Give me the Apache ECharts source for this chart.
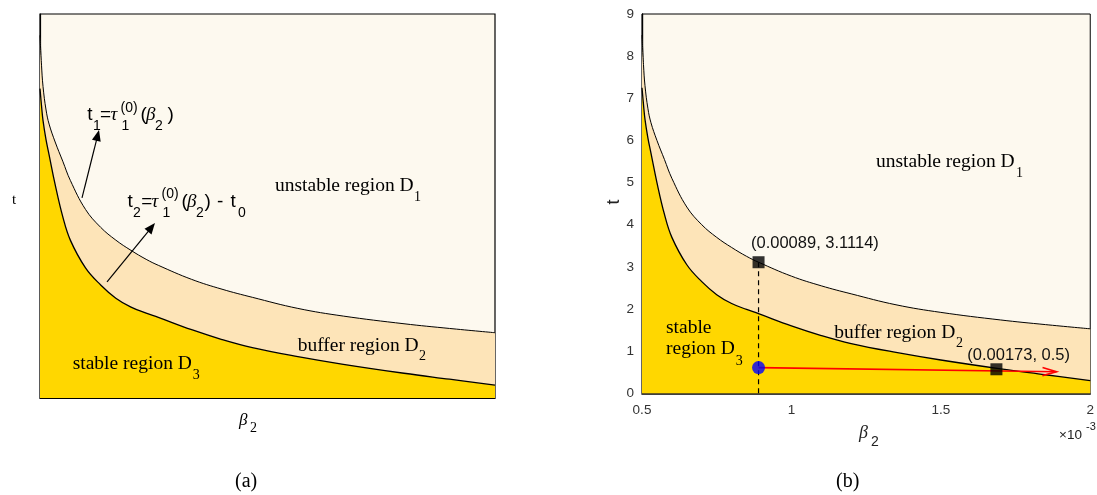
<!DOCTYPE html>
<html>
<head>
<meta charset="utf-8">
<script src="https://cdn.jsdelivr.net/npm/echarts@6/dist/echarts.min.js"></script>
<style>html,body{margin:0;padding:0;background:#fff;}#c{width:1097px;height:495px;}</style>
</head>
<body>
<div id="c"></div>
<script>
// beta_2 values in units of 1e-3
const beta   = [0.500,0.505,0.510,0.520,0.530,0.550,0.575,0.600,0.650,0.700,0.750,0.800,0.850,0.890,1.000,1.100,1.200,1.350,1.500,1.700,1.850,2.000];
// t1 = tau1^(0)(beta2)  (upper boundary)
const tUpper = [8.50,7.80,7.30,6.75,6.42,6.00,5.55,5.10,4.42,4.00,3.70,3.46,3.25,3.11,2.78,2.55,2.36,2.10,1.92,1.74,1.63,1.53];
// t2 = tau1^(0)(beta2) - t0  (lower boundary)
const tLower = [7.25,6.85,6.50,6.05,5.70,5.00,4.25,3.70,3.05,2.65,2.34,2.13,1.99,1.89,1.60,1.37,1.18,0.97,0.79,0.58,0.44,0.30];
const xTicks = [0.5, 1, 1.5, 2];
const yTicks = [0,1,2,3,4,5,6,7,8,9];
// marked points (panel b)
const squarePts = [[0.89, 3.11], [1.686, 0.57]];
const bluePt = [[0.89, 0.61]];
const dashedLine = [[0.89, 0], [0.89, 3.11]];
const redArrow = [[0.89, 0.61, 1.887, 0.51]];
// annotation arrows (panel a)
const blackArrows = [[0.6385, 4.69, 0.6945, 6.28], [0.721, 2.72, 0.879, 4.10]];

const C_UNST = '#FDF9EF', C_BUF = '#FDE4B8', C_STAB = '#FFD700';
const SERIF = 'Liberation Serif', SANS = 'Liberation Sans';

const chart = echarts.init(document.getElementById('c'), null, {renderer: 'canvas'});

function pts(ys){ return beta.map((b,k)=>[b, ys[k]]); }

function arrowRender(color, filled, lw, L, W){
  return function(params, api){
    const p1 = api.coord([api.value(0), api.value(1)]);
    const p2 = api.coord([api.value(2), api.value(3)]);
    const dx = p2[0]-p1[0], dy = p2[1]-p1[1];
    const len = Math.sqrt(dx*dx+dy*dy);
    const ux = dx/len, uy = dy/len, px = -uy, py = ux;
    const bx = p2[0]-ux*L, by = p2[1]-uy*L;
    const a = [bx+px*W, by+py*W], b = [bx-px*W, by-py*W];
    const children = [];
    const shaftEnd = filled ? [p2[0]-ux*L*0.7, p2[1]-uy*L*0.7] : p2;
    children.push({type:'line', shape:{x1:p1[0],y1:p1[1],x2:shaftEnd[0],y2:shaftEnd[1]}, style:{stroke:color, lineWidth:lw}});
    if (filled) {
      children.push({type:'polygon', shape:{points:[p2, a, b]}, style:{fill:color}});
    } else {
      children.push({type:'polyline', shape:{points:[a, p2, b]}, style:{stroke:color, lineWidth:lw, fill:null}});
    }
    return {type:'group', children};
  };
}

function T(x, base, str, size, fam, italic, color, extra){
  const o = {type:'text', x:x, y: base - 0.34*size, z:100, silent:true,
    style:{text:str, fontSize:size, fontFamily:fam, fontStyle: italic?'italic':'normal',
      fill: color||'#000', align:'left', verticalAlign:'middle'}};
  if (extra) Object.assign(o, extra);
  return o;
}

const texts = [
  // panel (a)
  T(12, 205, 't', 15, SERIF),
  T(239, 426, 'β', 17, SERIF, true),
  T(250, 433, '2', 14, SERIF),
  T(235, 489, '(a)', 20, SERIF),
  T(275, 192.7, 'unstable region D', 19.5, SERIF), T(414, 201.7, '1', 14, SERIF),
  T(297.7, 352.3, 'buffer region D', 19.5, SERIF), T(419, 361, '2', 14, SERIF),
  T(72.7, 371, 'stable region D', 19.5, SERIF), T(192.7, 380, '3', 14, SERIF),
  // formula 1
  T(87.2, 121, 't', 19, SANS), T(93, 130.5, '1', 14, SANS), T(100, 121, '=', 19, SANS),
  T(110.5, 121, 'τ', 19, SERIF, true), T(120.5, 112.5, '(0)', 14, SANS), T(121.5, 130.5, '1', 14, SANS),
  T(140.5, 121, '(', 19, SANS), T(146, 121, 'β', 19, SERIF, true), T(155, 130.5, '2', 14, SANS), T(167.5, 121, ')', 19, SANS),
  // formula 2
  T(127.5, 208.3, 't', 19, SANS), T(133, 218, '2', 14, SANS), T(141.2, 208.3, '=', 19, SANS),
  T(151.5, 208.3, 'τ', 19, SERIF, true), T(161.5, 199, '(0)', 14, SANS), T(162.5, 218, '1', 14, SANS),
  T(181.5, 208.3, '(', 19, SANS), T(187, 208.3, 'β', 19, SERIF, true), T(196, 218, '2', 14, SANS), T(204.5, 208.3, ')', 19, SANS),
  T(217, 208.3, '-', 19, SANS), T(230.5, 208.3, 't', 19, SANS), T(238, 218, '0', 14, SANS),
  // panel (b)
  {type:'text', x:614, y:202, rotation:Math.PI/2, z:100, silent:true,
    style:{text:'t', fontSize:18, fontFamily:SANS, fill:'#222', align:'center', verticalAlign:'middle'}},
  T(859, 439, 'β', 18, SERIF, true, '#222'), T(871, 447, '2', 14, SANS, false, '#222'),
  T(1059, 440, '×10', 13.5, SANS, false, '#222'), T(1086, 431, '-3', 11, SANS, false, '#222'),
  T(836, 489, '(b)', 20, SERIF),
  T(876, 168.3, 'unstable region D', 19.5, SERIF), T(1016, 178.3, '1', 14, SERIF),
  T(834.3, 339.3, 'buffer region D', 19.5, SERIF), T(956, 348.3, '2', 14, SERIF),
  T(666, 334.3, 'stable', 19.5, SERIF), T(666, 356, 'region D', 19.5, SERIF), T(735.7, 365.7, '3', 14, SERIF),
  T(751, 249.3, '(0.00089, 3.1114)', 16.5, SANS, false, '#111'),
  T(967.3, 360.7, '(0.00173, 0.5)', 16.5, SANS, false, '#111')
];

function curveSeries(idx){
  return [
    {type:'line', xAxisIndex:idx, yAxisIndex:idx, data:pts(tUpper), symbol:'none', smooth:0.4,
     lineStyle:{color:'#000', width:1}, areaStyle:{color:C_BUF, opacity:1}, z:2, silent:true},
    {type:'line', xAxisIndex:idx, yAxisIndex:idx, data:pts(tLower), symbol:'none', smooth:0.4,
     lineStyle:{color:'#000', width:1.3}, areaStyle:{color:C_STAB, opacity:1}, z:3, silent:true}
  ];
}

const option = {
  animation:false,
  backgroundColor:'#fff',
  grid:[
    {left:40, top:14, width:455, height:384, show:true, backgroundColor:C_UNST, borderColor:'#000', borderWidth:1.2, containLabel:false},
    {left:642, top:14, width:454, height:379.3, show:true, backgroundColor:C_UNST, borderColor:'#000', borderWidth:1, containLabel:false}
  ],
  xAxis:[
    {gridIndex:0, type:'value', min:0.5, max:2, axisLabel:{show:false}, axisTick:{show:false}, splitLine:{show:false},
     axisLine:{show:true, lineStyle:{color:'#000', width:1.2}}},
    {gridIndex:1, type:'value', min:0.5, max:2, interval:0.5,
     axisLabel:{show:true, margin:10, fontSize:13.5, fontFamily:SANS, color:'#333',
       formatter:(v)=>{ const t = xTicks.find(x=>Math.abs(x-v)<1e-9); return t===undefined?'':String(t); }},
     axisTick:{show:false}, splitLine:{show:false}, axisLine:{show:true, lineStyle:{color:'#000', width:1.6}}}
  ],
  yAxis:[
    {gridIndex:0, type:'value', min:0, max:9, axisLabel:{show:false}, axisTick:{show:false}, splitLine:{show:false},
     axisLine:{show:true, lineStyle:{color:'#000', width:1.2}}},
    {gridIndex:1, type:'value', min:0, max:9, interval:1,
     axisLabel:{show:true, margin:8, fontSize:13.5, fontFamily:SANS, color:'#333',
       formatter:(v)=>{ const t = yTicks.find(x=>Math.abs(x-v)<1e-9); return t===undefined?'':String(t); }},
     axisTick:{show:false}, splitLine:{show:false}, axisLine:{show:true, lineStyle:{color:'#000', width:1.4}}}
  ],
  series:[
    ...curveSeries(0),
    ...curveSeries(1),
    {type:'custom', xAxisIndex:0, yAxisIndex:0, data:blackArrows, renderItem:arrowRender('#000', true, 1.2, 11, 4.5), z:10, silent:true},
    {type:'line', xAxisIndex:1, yAxisIndex:1, data:dashedLine, symbol:'none',
     lineStyle:{color:'#000', width:1.2, type:[5,4]}, z:8, silent:true},
    {type:'custom', xAxisIndex:1, yAxisIndex:1, data:redArrow, renderItem:arrowRender('#FF0000', false, 1.6, 14, 4), z:9, silent:true},
    {type:'scatter', xAxisIndex:1, yAxisIndex:1, data:squarePts, symbol:'rect', symbolSize:12,
     itemStyle:{color:'#000'}, z:11, silent:true},
    {type:'scatter', xAxisIndex:1, yAxisIndex:1, data:bluePt, symbol:'circle', symbolSize:13,
     itemStyle:{color:'#0000FF'}, z:11, silent:true}
  ],
  graphic: texts
};
chart.setOption(option);
</script>
</body>
</html>
